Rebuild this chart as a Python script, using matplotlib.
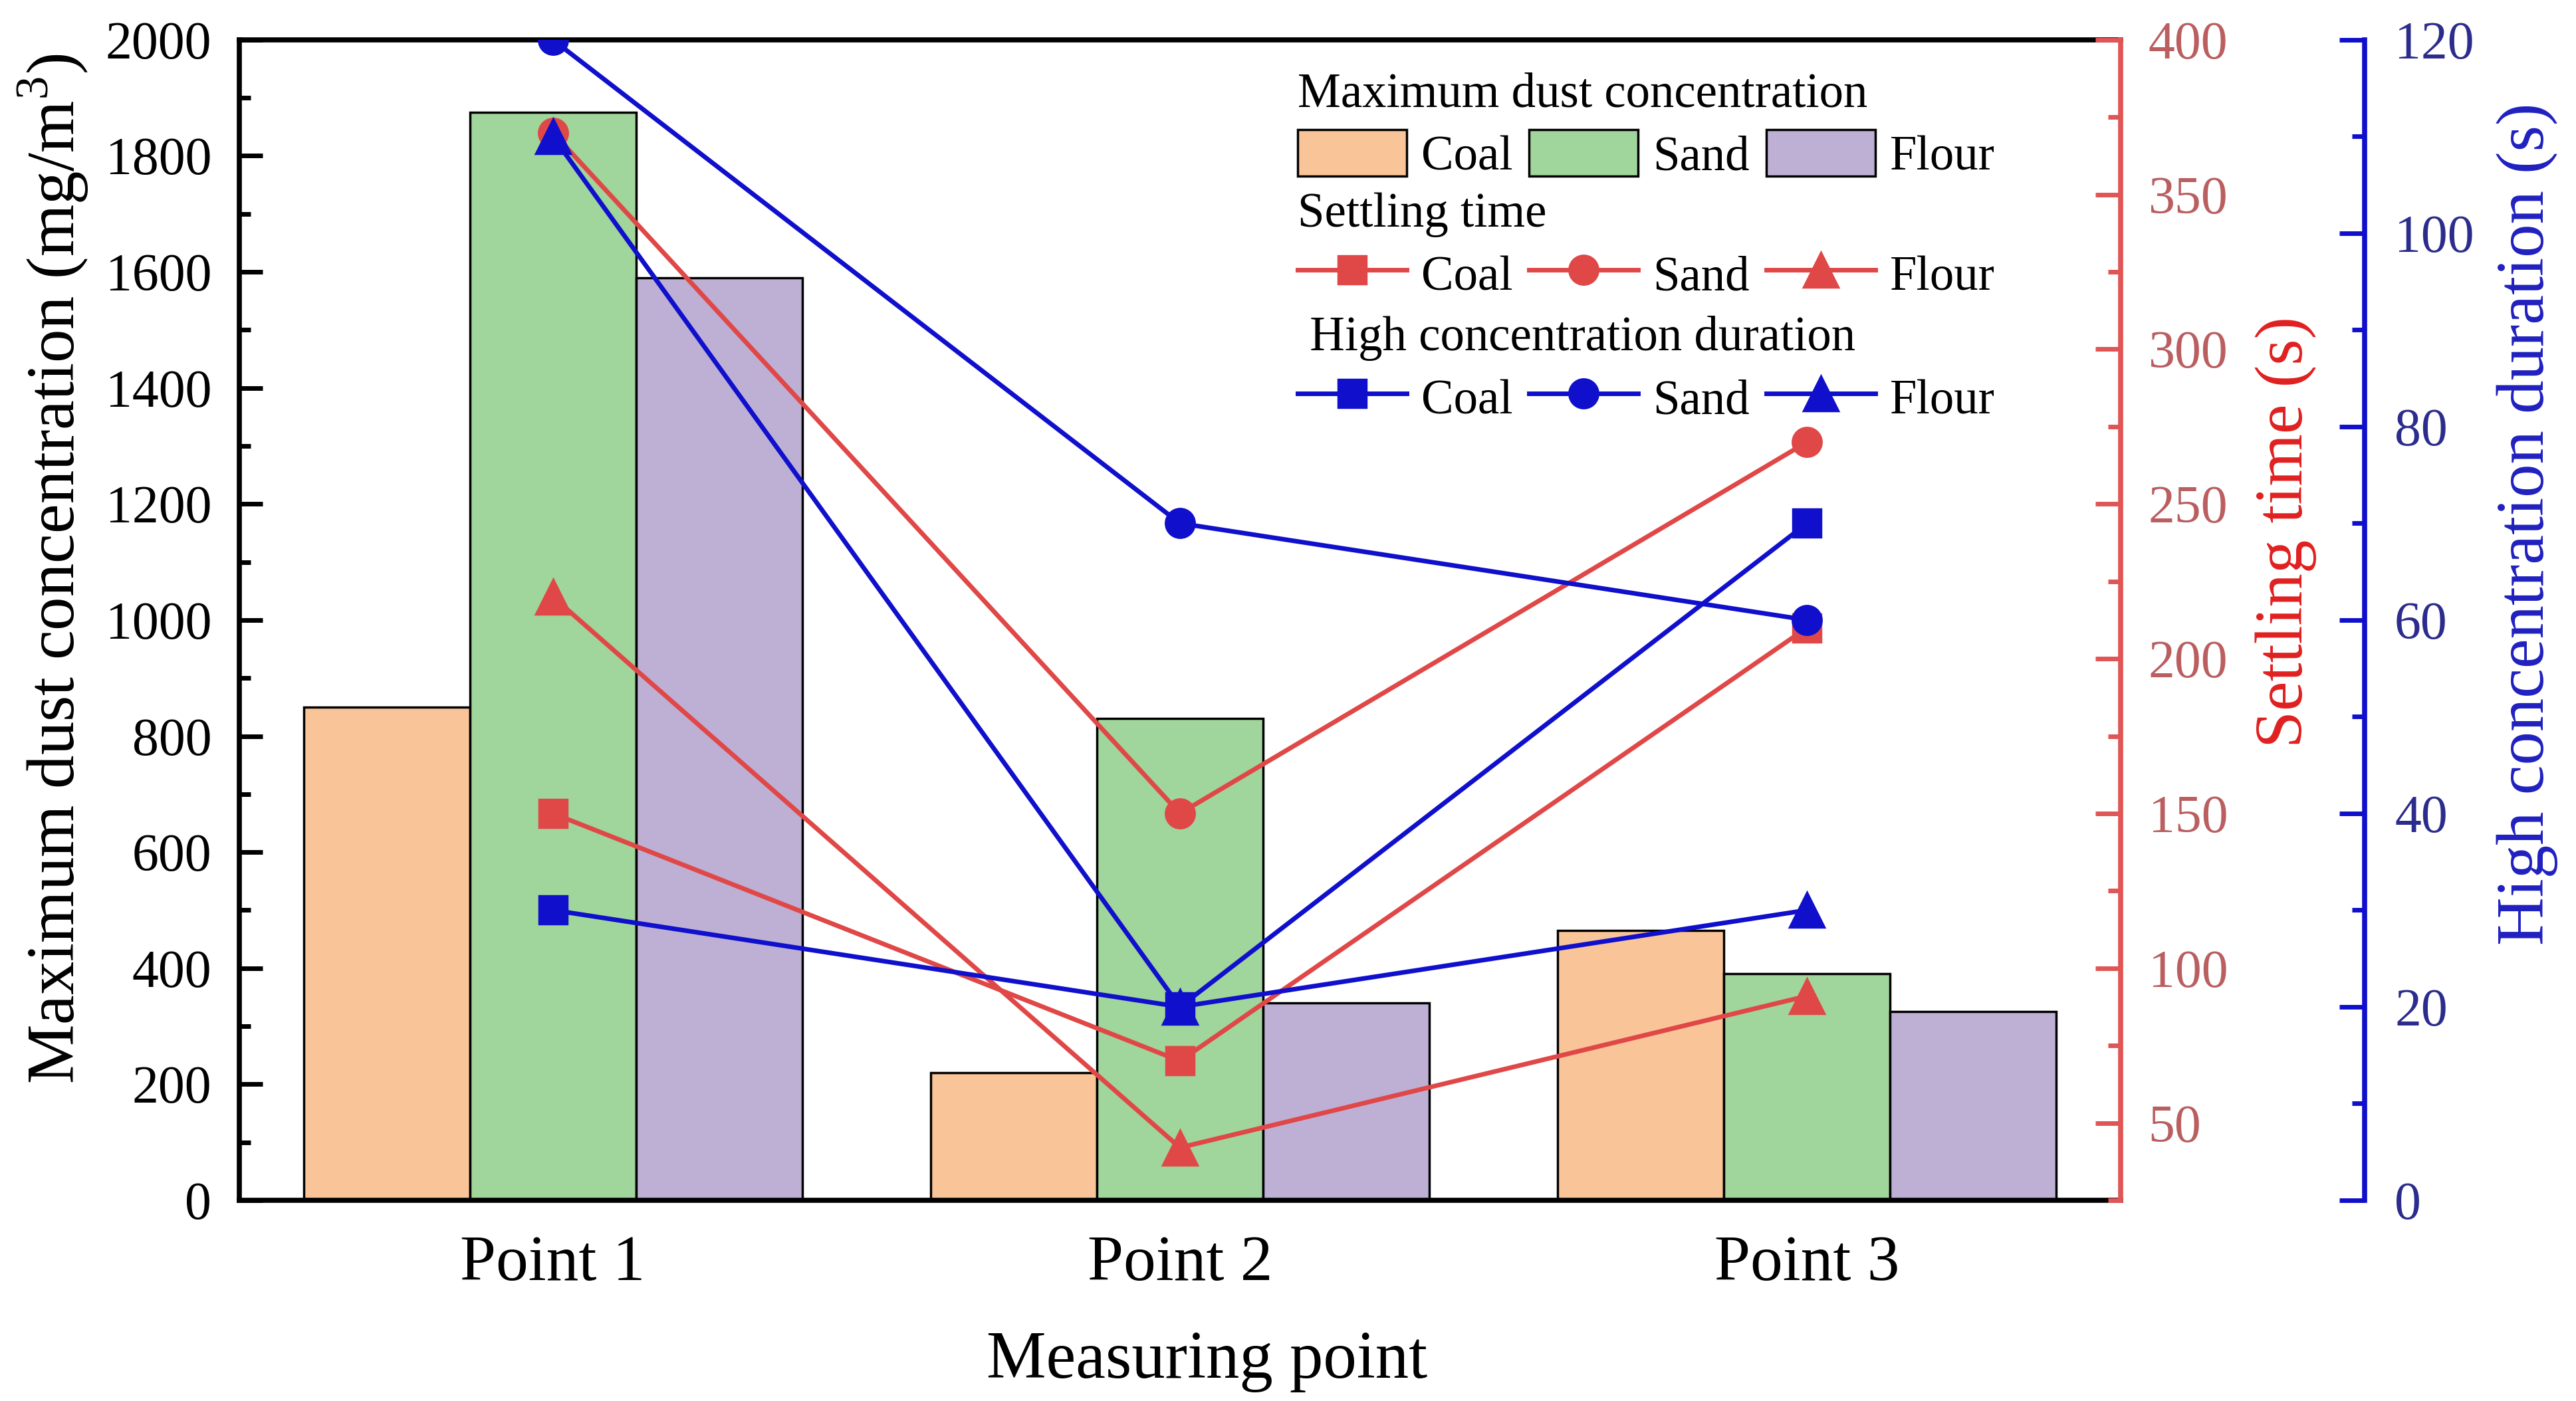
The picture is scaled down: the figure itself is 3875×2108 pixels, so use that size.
import matplotlib
matplotlib.use('Agg')
import matplotlib.pyplot as plt
from matplotlib.ticker import MultipleLocator
import numpy as np

plt.rcParams['font.family'] = ['Liberation Serif', 'DejaVu Serif']
plt.rcParams['mathtext.fontset'] = 'custom'
plt.rcParams['mathtext.rm'] = 'Liberation Serif'

points = ['Point 1', 'Point 2', 'Point 3']
materials = ['Coal', 'Sand', 'Flour']

# maximum dust concentration (mg/m3)
conc_coal = [850, 220, 465]
conc_sand = [1875, 830, 390]
conc_flour = [1590, 340, 325]

# settling time (s)
settle_coal = [150, 70, 210]
settle_sand = [370, 150, 270]
settle_flour = [220, 42, 91]

# high concentration duration (s)
dur_coal = [30, 20, 70]
dur_sand = [120, 70, 60]
dur_flour = [110, 20, 30]

bar_colors = ['#F9C498', '#A0D59B', '#BEB0D5']
red = '#E04848'
red_spine = '#E05555'
red_tick = '#BA5E60'
blue = '#1010CC'
blue_tick = '#2C2C8C'

fig = plt.figure(figsize=(15.5, 8.432), dpi=250)
ax = fig.add_axes([0.0929, 0.1433, 0.7303, 0.8283])

x = np.arange(1, len(points) + 1)
w = 0.265
b1 = ax.bar(x - w, conc_coal, w, color=bar_colors[0], edgecolor='black', linewidth=1)
b2 = ax.bar(x, conc_sand, w, color=bar_colors[1], edgecolor='black', linewidth=1)
b3 = ax.bar(x + w, conc_flour, w, color=bar_colors[2], edgecolor='black', linewidth=1)

ax.set_xlim(0.5, 3.5)
ax.set_ylim(0, 2000)
ax.set_xticks(x, points)
ax.set_yticks(np.arange(0, 2001, 200))
ax.yaxis.set_minor_locator(MultipleLocator(100))
ax.tick_params(axis='x', length=0, labelsize=28, pad=15)
ax.tick_params(axis='y', which='major', direction='in', length=10, width=2, labelsize=23, pad=12)
ax.tick_params(axis='y', which='minor', direction='in', length=5, width=2)
for s in ['left', 'top', 'bottom']:
    ax.spines[s].set_linewidth(2.2)
ax.spines['right'].set_visible(False)

ax.set_ylabel('Maximum dust concentration (mg/m$^{\\mathrm{3}}$)', fontsize=29)
ax.yaxis.set_label_coords(-0.099, 0.544)
ax.yaxis.label.set_va('center')
ax.set_xlabel('Measuring point', fontsize=29)
ax.xaxis.set_label_coords(0.5145, -0.139)
ax.xaxis.label.set_va('center')

# settling time axis
ax_red = ax.twinx()
l1, = ax_red.plot(x, settle_coal, color=red, lw=2, marker='s', ms=12)
l2, = ax_red.plot(x, settle_sand, color=red, lw=2, marker='o', ms=12.5)
l3, = ax_red.plot(x, settle_flour, color=red, lw=2, marker='^', ms=15)
ax_red.set_ylim(25, 400)
ax_red.set_yticks(np.arange(50, 401, 50))
ax_red.yaxis.set_minor_locator(MultipleLocator(25))
ax_red.tick_params(axis='y', which='major', direction='in', length=11, width=2,
                   color=red_spine, labelcolor=red_tick, labelsize=23, pad=12)
ax_red.tick_params(axis='y', which='minor', direction='in', length=5.5, width=2, color=red_spine)
for s in ['left', 'top', 'bottom']:
    ax_red.spines[s].set_visible(False)
ax_red.spines['right'].set_color(red_spine)
ax_red.spines['right'].set_linewidth(2.2)
ax_red.set_ylabel('Settling time (s)', fontsize=29, color='#E02020')
ax_red.yaxis.set_label_coords(1.088, 0.576)
ax_red.yaxis.label.set_va('center')

# high concentration duration axis
ax_blue = ax.twinx()
ax_blue.spines['right'].set_position(('axes', 1.1297))
m1, = ax_blue.plot(x, dur_coal, color=blue, lw=2, marker='s', ms=12)
m2, = ax_blue.plot(x, dur_sand, color=blue, lw=2, marker='o', ms=12.5)
m3, = ax_blue.plot(x, dur_flour, color=blue, lw=2, marker='^', ms=15)
ax_blue.set_ylim(0, 120)
ax_blue.set_yticks(np.arange(0, 121, 20))
ax_blue.yaxis.set_minor_locator(MultipleLocator(10))
ax_blue.tick_params(axis='y', which='major', direction='in', length=11, width=2,
                    color=blue, labelcolor=blue_tick, labelsize=23, pad=13)
ax_blue.tick_params(axis='y', which='minor', direction='in', length=5.5, width=2, color=blue)
for s in ['left', 'top', 'bottom']:
    ax_blue.spines[s].set_visible(False)
ax_blue.spines['right'].set_color(blue)
ax_blue.spines['right'].set_linewidth(2.2)
ax_blue.set_ylabel('High concentration duration (s)', fontsize=29, color='#2020C0')
ax_blue.yaxis.set_label_coords(1.2163, 0.583)
ax_blue.yaxis.label.set_va('center')

# three stacked legends
leg_kw = dict(loc='upper left', ncol=3, frameon=False, fontsize=21, title_fontsize=21,
              alignment='left', borderpad=0, borderaxespad=0, handlelength=2.25,
              handleheight=1.1, handletextpad=0.3, columnspacing=0.34, labelspacing=0.26,
              bbox_transform=fig.transFigure)
leg1 = ax_blue.legend([b1, b2, b3], materials, title='Maximum dust concentration',
                      bbox_to_anchor=(0.5037, 0.9484), **leg_kw)
ax_blue.add_artist(leg1)
leg2 = ax_blue.legend([l1, l2, l3], materials, title='Settling time',
                      bbox_to_anchor=(0.5037, 0.8625), **leg_kw)
ax_blue.add_artist(leg2)
leg3 = ax_blue.legend([m1, m2, m3], materials, title=' High concentration duration',
                      bbox_to_anchor=(0.5037, 0.7745), **leg_kw)

fig.savefig('out.png', dpi=250)
